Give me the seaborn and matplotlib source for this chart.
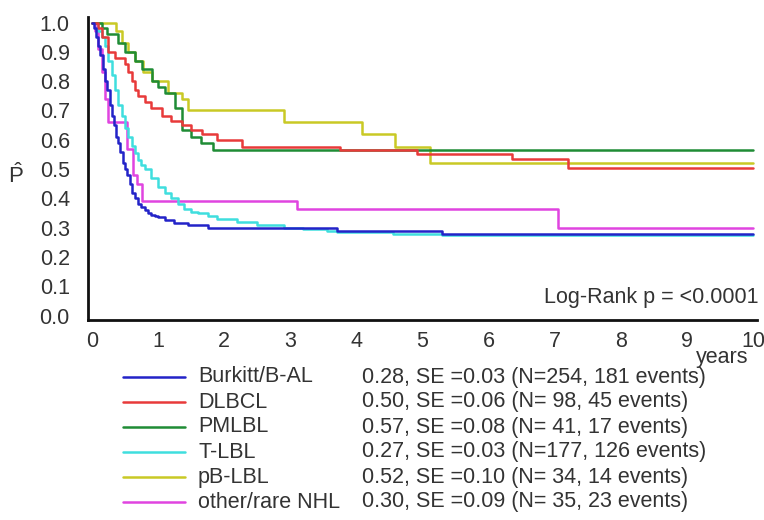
import pandas as pd
import matplotlib
matplotlib.use('Agg')
import matplotlib.pyplot as plt
import seaborn as sns
from matplotlib.lines import Line2D

# Kaplan-Meier step curves (years, survival)
grupos = ['Burkitt/B-AL', 'DLBCL', 'PMLBL', 'T-LBL', 'pB-LBL', 'other/rare NHL']

burkitt_t = [0, 0.03, 0.07, 0.1, 0.13, 0.17, 0.2, 0.23, 0.27, 0.3, 0.33, 0.37, 0.4, 0.43, 0.47,
             0.5, 0.53, 0.57, 0.6, 0.65, 0.7, 0.75, 0.8, 0.85, 0.9, 0.95, 1.0, 1.1, 1.25,
             1.45, 1.75, 3.7, 5.3, 10]
burkitt_s = [1.0, 0.98, 0.95, 0.92, 0.89, 0.84, 0.80, 0.77, 0.72, 0.68, 0.65, 0.61, 0.59, 0.56, 0.52,
             0.50, 0.48, 0.45, 0.42, 0.40, 0.38, 0.37, 0.36, 0.35, 0.345, 0.34, 0.335, 0.325, 0.315,
             0.31, 0.30, 0.29, 0.28, 0.28]

dlbcl_t = [0, 0.1, 0.15, 0.24, 0.35, 0.5, 0.55, 0.6, 0.65, 0.7, 0.8, 0.9, 1.06, 1.2, 1.36, 1.5,
           1.67, 1.9, 2.27, 3.76, 4.92, 6.36, 7.2, 10]
dlbcl_s = [1.0, 0.98, 0.95, 0.90, 0.88, 0.86, 0.83, 0.80, 0.77, 0.75, 0.73, 0.71, 0.68, 0.665, 0.65, 0.635,
           0.62, 0.60, 0.575, 0.565, 0.553, 0.535, 0.505, 0.505]

pmlbl_t = [0, 0.15, 0.23, 0.39, 0.5, 0.65, 0.76, 0.91, 1.0, 1.1, 1.26, 1.36, 1.5, 1.65, 1.83, 10]
pmlbl_s = [1.0, 0.98, 0.96, 0.93, 0.90, 0.87, 0.84, 0.80, 0.78, 0.76, 0.71, 0.635, 0.61, 0.59, 0.565, 0.565]

tlbl_t = [0, 0.1, 0.15, 0.2, 0.25, 0.3, 0.35, 0.4, 0.45, 0.5, 0.55, 0.6, 0.65, 0.7, 0.75, 0.8,
          0.9, 1.0, 1.1, 1.2, 1.3, 1.4, 1.5, 1.6, 1.75, 1.9, 2.2, 2.5,
          2.9, 3.2, 3.55, 3.7, 4.55, 5.3, 10]
tlbl_s = [1.0, 0.97, 0.95, 0.92, 0.87, 0.82, 0.77, 0.72, 0.68, 0.64, 0.61, 0.58, 0.555, 0.53, 0.515, 0.50,
          0.47, 0.44, 0.42, 0.40, 0.38, 0.365, 0.355, 0.35, 0.34, 0.33, 0.32, 0.31,
          0.30, 0.295, 0.29, 0.285, 0.28, 0.275, 0.275]

pblbl_t = [0, 0.37, 0.45, 0.55, 0.65, 0.77, 0.91, 1.15, 1.36, 1.45, 2.9, 4.09, 4.59, 5.12, 10]
pblbl_s = [1.0, 0.97, 0.93, 0.90, 0.87, 0.83, 0.80, 0.76, 0.74, 0.70, 0.66, 0.62, 0.575, 0.52, 0.52]

outros_t = [0, 0.05, 0.1, 0.15, 0.2, 0.24, 0.53, 0.62, 0.68, 0.76, 3.1, 7.05, 10]
outros_s = [1.0, 0.97, 0.91, 0.83, 0.74, 0.66, 0.57, 0.48, 0.45, 0.39, 0.365, 0.30, 0.30]

estatisticas = ['0.28, SE =0.03 (N=254, 181 events)',
                '0.50, SE =0.06 (N= 98, 45 events)',
                '0.57, SE =0.08 (N= 41, 17 events)',
                '0.27, SE =0.03 (N=177, 126 events)',
                '0.52, SE =0.10 (N= 34, 14 events)',
                '0.30, SE =0.09 (N= 35, 23 events)']

cores = ['#2323c8', '#e83a3a', '#1f8c35', '#3fdede', '#c9c925', '#e044e0']

tempos = [burkitt_t, dlbcl_t, pmlbl_t, tlbl_t, pblbl_t, outros_t]
sobrev = [burkitt_s, dlbcl_s, pmlbl_s, tlbl_s, pblbl_s, outros_s]

linhas = []
for g, t, s in zip(grupos, tempos, sobrev):
    for ti, si in zip(t, s):
        linhas.append({'grupo': g, 'anos': ti, 'sobrevida': si})
df = pd.DataFrame(linhas)

sns.set_style('white')
plt.rcParams['font.family'] = ['Liberation Sans', 'DejaVu Sans']
plt.rcParams['mathtext.fontset'] = 'custom'
plt.rcParams['mathtext.rm'] = 'Liberation Sans'

fig = plt.figure(figsize=(7.64, 5.2), dpi=100)
ax = fig.add_axes([0.115, 0.385, 0.876, 0.583])

sns.lineplot(data=df, x='anos', y='sobrevida', hue='grupo', hue_order=grupos[::-1],
             palette=dict(zip(grupos, cores)), estimator=None, drawstyle='steps-post',
             linewidth=1.8, legend=False, ax=ax)

ax.set_xlim(-0.06, 10.06)
ax.set_ylim(-0.014, 1.02)
ax.set_xticks(range(0, 11))
ax.set_yticks([i / 10 for i in range(11)])
ax.set_yticklabels([f'{i / 10:.1f}' for i in range(11)])
ax.set_xlabel('')
ax.set_ylabel('')
sns.despine(ax=ax)
for lado in ['left', 'bottom']:
    ax.spines[lado].set_linewidth(2)
    ax.spines[lado].set_color('#111111')
ax.tick_params(axis='both', direction='out', length=5, width=1.6, color='#111111',
               labelsize=15.5, labelcolor='#333333')
ax.tick_params(axis='y', pad=8)
ax.tick_params(axis='x', pad=3)

tam = 15.5
fig.text(0.993, 1 - 298 / 520, 'Log-Rank p = <0.0001', ha='right', va='center',
         fontsize=tam, color='#333333')
fig.text(722 / 764, 1 - 357 / 520, 'years', ha='center', va='center', fontsize=tam, color='#333333')
fig.text(16 / 764, 1 - 176 / 520, r'$\hat{\mathrm{P}}$', ha='center', va='center',
         fontsize=16, color='#333333')

# legenda montada a mao
linhas_y = [377, 402, 427, 452, 477, 502]
for g, c, est, ypx in zip(grupos, cores, estatisticas, linhas_y):
    y = 1 - ypx / 520
    fig.add_artist(Line2D([123 / 764, 185 / 764], [y, y], color=c, linewidth=1.8,
                          transform=fig.transFigure))
    fig.text(198 / 764, y, g, ha='left', va='center', fontsize=tam, color='#333333')
    fig.text(362 / 764, y, est, ha='left', va='center', fontsize=tam, color='#333333')

plt.savefig('out.png', dpi=100)
plt.close()
